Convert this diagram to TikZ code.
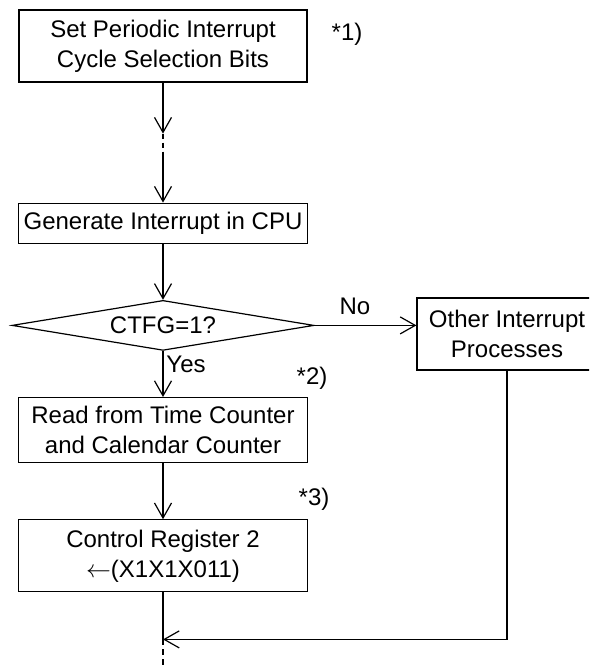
\documentclass[tikz,border=0pt]{standalone}
\usepackage{fontspec}
\setmainfont{Liberation Sans}
\usetikzlibrary{shapes.geometric,arrows.meta,positioning}

\begin{document}
\begin{tikzpicture}[
  x=1pt, y=-1pt,
  every node/.style = {font=\fontsize{24pt}{30pt}\selectfont},
  %--- node styles ---------------------------------------------------
  procst/.style   = {draw, line width=1.2pt, rectangle,
                     minimum width=289pt, inner sep=0pt,
                     align=center},
  decst/.style    = {draw, line width=1.2pt, diamond, aspect=6,
                     minimum width=302pt, minimum height=50pt,
                     inner sep=0pt},
  notest/.style   = {inner sep=0pt},
  arr/.style      = {-{Straight Barb[length=15pt,width=17pt]},
                     line width=1.2pt},
  brk/.style      = {line width=1.2pt, dash pattern=on 5pt off 4pt},
]
\useasboundingbox (0,0) rectangle (589,668);
\clip (0,0) rectangle (589,668);

% ---- Nodes --------------------------------------------------------
\node[procst, minimum width=288pt, minimum height=72pt] (set) at (163,46)
    {Set Periodic Interrupt\\Cycle Selection Bits};

\node[procst, minimum height=40pt, below=120pt of set] (gen)
    {Generate Interrupt in CPU};

\node[decst, below=56pt of gen] (ctfg) {CTFG=1?};

\node[procst, minimum height=65pt, below=46pt of ctfg] (read)
    {Read from Time Counter\\and Calendar Counter};

\node[procst, minimum height=72pt, below=56pt of read] (ctrl)
    {Control Register 2\\$\leftarrow$(X1X1X011)};

\node[procst, minimum width=180pt, minimum height=72pt] (other) at (507,334)
    {Other Interrupt\\Processes};

% ---- Labels -------------------------------------------------------
\node[notest] (note1) at (347,34)  {*1)};
\node[notest] (note2) at (312,378) {*2)};
\node[notest] (note3) at (314,499) {*3)};
\node[notest] (yes)   at (186,364) {Yes};
\node[notest] (no)    at (355,306) {No};

% ---- Coordinates --------------------------------------------------
\coordinate[below=51pt of set.south] (brkA);
\coordinate[below=70pt of set.south] (brkB);
\coordinate[below=47pt of ctrl.south] (join);
\coordinate[below=40pt of join] (tail);

% ---- Arrows -------------------------------------------------------
\draw[arr] (set)  -- (brkA);
\draw[brk] (brkA) -- (brkB);
\draw[arr] (brkB) -- (gen);
\draw[arr] (gen)  -- (ctfg);
\draw[arr] (ctfg) -- (read);
\draw[arr] (read) -- (ctrl);
\draw[arr] (ctfg.east) -- (ctfg.east -| other.west);
\draw[line width=1.2pt] (ctrl) -- (join);
\draw[arr] (other) |- (join);
\draw[brk, dash pattern=on 6pt off 4pt] (join) -- (tail);

\end{tikzpicture}
\end{document}
